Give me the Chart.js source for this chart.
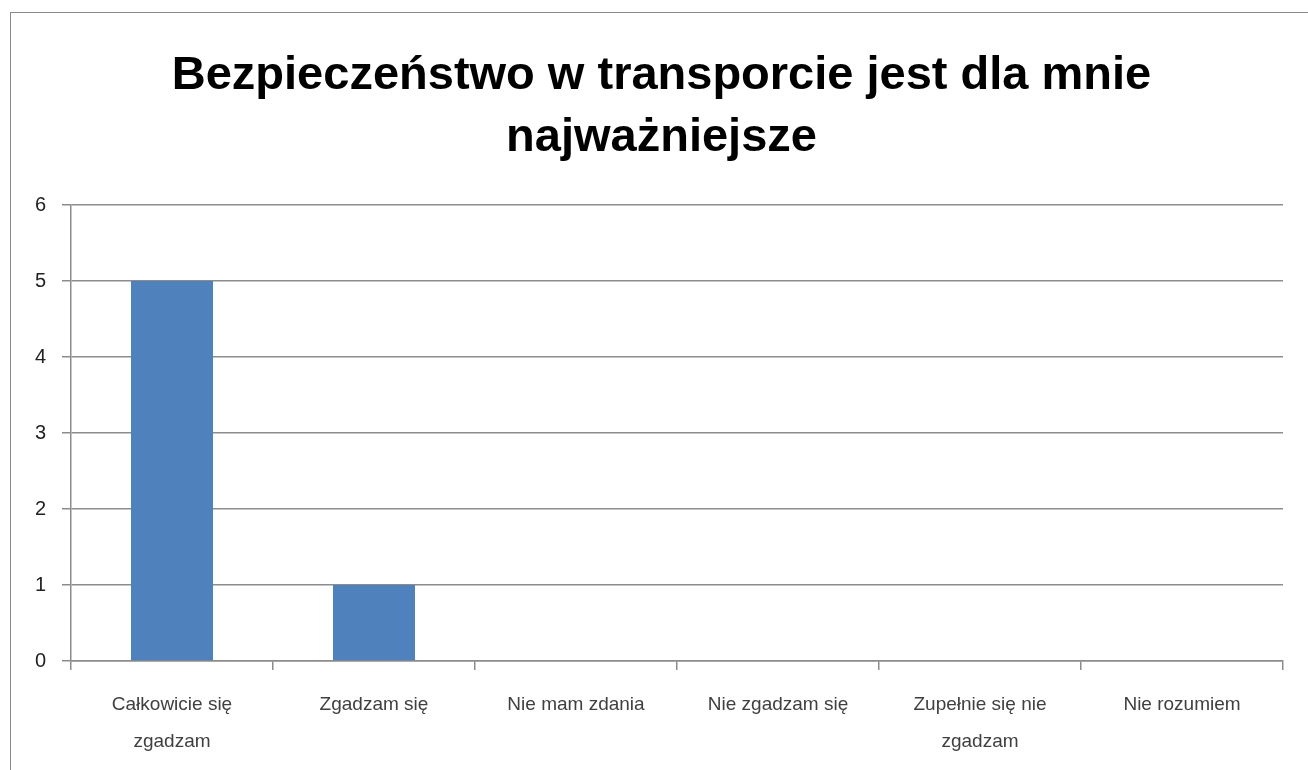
<!DOCTYPE html>
<html>
<head>
<meta charset="utf-8">
<script src="https://cdn.jsdelivr.net/npm/chart.js@4"></script>
<style>
  html, body { margin: 0; padding: 0; background: #fff; }
  #wrap { position: relative; width: 1308px; height: 770px; }
  #frame { position: absolute; left: 10px; top: 12px; width: 1310px; height: 770px; border: 1px solid #8a8a8a; box-sizing: border-box; }
  canvas { position: absolute; left: 0; top: 0; }
</style>
</head>
<body>
<div id="wrap">
  <div id="frame"></div>
  <canvas id="chart" width="1308" height="770"></canvas>
</div>
<script>
// chart data
const titleLines = ['Bezpieczeństwo w transporcie jest dla mnie', 'najważniejsze'];
const categories = [
  ['Całkowicie się', 'zgadzam'],
  'Zgadzam się',
  'Nie mam zdania',
  'Nie zgadzam się',
  ['Zupełnie się nie', 'zgadzam'],
  'Nie rozumiem'
];
const counts = [5, 1, 0, 0, 0, 0];
const yMin = 0, yMax = 6, yStep = 1;

const gridColor = '#8c8c8c';

// the title sits centred over the plot area, not over the whole canvas
const titleShift = {
  id: 'titleShift',
  afterLayout(chart) {
    if (chart.titleBlock) chart.titleBlock.left = 40;
  }
};

new Chart(document.getElementById('chart'), {
  type: 'bar',
  data: {
    labels: categories,
    datasets: [{
      data: counts,
      backgroundColor: '#4f81bd',
      categoryPercentage: 1,
      barPercentage: 0.406
    }]
  },
  options: {
    responsive: false,
    animation: false,
    layout: { padding: { top: 0, right: 25, bottom: 0, left: 0 } },
    plugins: {
      legend: { display: false },
      tooltip: { enabled: false },
      title: {
        display: true,
        text: titleLines,
        color: '#000',
        font: { family: 'Liberation Sans', size: 47, weight: 'bold', lineHeight: 1.32 },
        padding: { top: 45, bottom: 36 }
      }
    },
    scales: {
      x: {
        offset: true,
        grid: { display: true, drawOnChartArea: false, color: gridColor, lineWidth: 1.5, tickLength: 9, offset: true },
        border: { color: gridColor, width: 1.5 },
        ticks: {
          color: '#404040',
          font: { family: 'Liberation Sans', size: 19, lineHeight: 1.95 },
          maxRotation: 0, autoSkip: false, padding: 16
        },
        afterFit: (scale) => { scale.height = 109; }
      },
      y: {
        min: yMin, max: yMax,
        grid: { color: gridColor, lineWidth: 1.5, tickLength: 9 },
        border: { color: gridColor, width: 1.5 },
        ticks: {
          stepSize: yStep,
          color: '#222',
          font: { family: 'Liberation Sans', size: 20 },
          padding: 16
        },
        afterFit: (scale) => { scale.width = 71; }
      }
    }
  },
  plugins: [titleShift]
});
</script>
</body>
</html>
